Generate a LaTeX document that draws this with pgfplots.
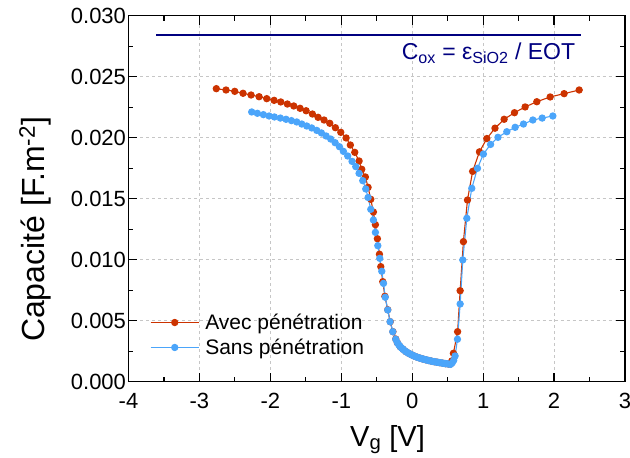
\documentclass[border=0pt]{standalone}
\usepackage{pgfplots}
\pgfplotsset{compat=1.18}
\usepackage{fontspec}
\setmainfont{Liberation Sans}
\definecolor{cred}{RGB}{204,51,0}
\definecolor{cblue}{RGB}{75,165,250}
\definecolor{cnavy}{RGB}{0,0,128}
\newcommand\tickfont{\fontsize{22}{26}\selectfont}
\newcommand\labfont{\fontsize{29}{34}\selectfont}
\newcommand\ylabfont{\fontsize{32}{38}\selectfont}
\newcommand\legfont{\fontsize{21}{25}\selectfont}
\newcommand\coxfont{\fontsize{23}{27}\selectfont}

\pgfplotstableread{
x y
-2.762 0.02402
-2.625 0.02391
-2.502 0.02380
-2.385 0.02364
-2.272 0.02350
-2.159 0.02336
-2.051 0.02320
-1.947 0.02306
-1.853 0.02293
-1.760 0.02276
-1.670 0.02260
-1.581 0.02241
-1.496 0.02221
-1.407 0.02194
-1.327 0.02167
-1.243 0.02145
-1.162 0.02118
-1.083 0.02082
-1.007 0.02044
-0.932 0.01998
-0.872 0.01940
-0.810 0.01880
-0.749 0.01809
-0.711 0.01741
-0.660 0.01678
-0.622 0.01593
-0.584 0.01495
-0.547 0.01391
-0.519 0.01287
-0.491 0.01172
-0.462 0.01045
-0.443 0.00943
-0.415 0.00820
-0.385 0.00700
-0.345 0.00590
-0.310 0.00492
-0.272 0.00410
-0.232 0.00350
-0.21 0.00320
-0.17 0.00288
-0.13 0.00266
-0.09 0.00247
-0.05 0.00233
-0.01 0.00221
0.03 0.00210
0.07 0.00201
0.11 0.00193
0.15 0.00186
0.19 0.00180
0.23 0.00174
0.27 0.00169
0.31 0.00164
0.35 0.00160
0.39 0.00156
0.43 0.00152
0.47 0.00148
0.51 0.00145
0.540 0.00145
0.558 0.00170
0.581 0.00233
0.640 0.00410
0.676 0.00746
0.722 0.01148
0.779 0.01489
0.852 0.01724
0.948 0.01884
1.052 0.01993
1.167 0.02078
1.296 0.02151
1.442 0.02205
1.592 0.02252
1.757 0.02295
1.945 0.02334
2.142 0.02361
2.354 0.02391
}\reddata

\pgfplotstableread{
x y
-2.263 0.02211
-2.183 0.02200
-2.098 0.02189
-2.018 0.02178
-1.943 0.02170
-1.859 0.02161
-1.779 0.02151
-1.703 0.02140
-1.628 0.02129
-1.557 0.02112
-1.487 0.02096
-1.417 0.02080
-1.346 0.02060
-1.280 0.02039
-1.214 0.02014
-1.149 0.01989
-1.087 0.01959
-1.026 0.01926
-0.970 0.01888
-0.909 0.01850
-0.848 0.01806
-0.796 0.01763
-0.749 0.01708
-0.697 0.01648
-0.655 0.01580
-0.622 0.01510
-0.584 0.01413
-0.547 0.01325
-0.519 0.01224
-0.485 0.01115
-0.457 0.01011
-0.429 0.00905
-0.405 0.00806
-0.380 0.00692
-0.345 0.00588
-0.312 0.00492
-0.274 0.00410
-0.232 0.00348
-0.21 0.00320
-0.19 0.00302
-0.17 0.00288
-0.15 0.00276
-0.13 0.00266
-0.11 0.00256
-0.09 0.00247
-0.07 0.00240
-0.05 0.00233
-0.03 0.00227
-0.01 0.00221
0.01 0.00215
0.03 0.00210
0.05 0.00205
0.07 0.00201
0.09 0.00197
0.11 0.00193
0.13 0.00189
0.15 0.00186
0.17 0.00183
0.19 0.00180
0.21 0.00177
0.23 0.00174
0.25 0.00171
0.27 0.00169
0.29 0.00166
0.31 0.00164
0.33 0.00162
0.35 0.00160
0.37 0.00158
0.39 0.00156
0.41 0.00154
0.43 0.00152
0.45 0.00150
0.47 0.00148
0.49 0.00147
0.51 0.00145
0.540 0.00142
0.565 0.00155
0.585 0.00175
0.605 0.00211
0.638 0.00348
0.676 0.00637
0.713 0.00998
0.770 0.01339
0.840 0.01585
0.920 0.01749
1.004 0.01866
1.105 0.01945
1.209 0.02003
1.334 0.02049
1.451 0.02085
1.569 0.02112
1.701 0.02145
1.832 0.02161
1.983 0.02178
}\bluedata

\begin{document}
\begin{tikzpicture}
\path[use as bounding box] (-128.5pt,-76.3pt) rectangle (501.5pt,381.7pt);
\begin{axis}[
  at={(0pt,0pt)}, anchor=south west,
  width=496.5pt, height=366pt, scale only axis,
  xmin=-4, xmax=3, ymin=0, ymax=0.03,
  xtick={-4,-3,...,3},
  ytick={0,0.005,0.01,0.015,0.02,0.025,0.03},
  minor x tick num=1, minor y tick num=1,
  scaled y ticks=false,
  yticklabel style={/pgf/number format/fixed, /pgf/number format/fixed zerofill, /pgf/number format/precision=3, xshift=1pt},
  xticklabel style={yshift=-8pt},
  /pgf/number format/assume math mode=true,
  ticklabel style={font=\tickfont},
  axis line style={line width=1.5pt},
  every tick/.style={black, line width=1.2pt},
  major tick length=9pt, minor tick length=5pt,
  tick align=inside,
  grid=major,
  major grid style={gray!45, line width=0.7pt, dash pattern=on 3pt off 3pt},
  xlabel={V\textsubscript{g} [V]},
  ylabel={Capacité [F.m\textsuperscript{-2}]},
  xlabel style={font=\labfont, at={(axis description cs:0.5217,-0.1757)}, anchor=base},
  ylabel style={font=\ylabfont, at={(axis description cs:-0.1883,0.416)}, anchor=center},
  legend style={draw=none, fill=none, font=\legfont, at={(axis description cs:0.0433,0.1276)}, anchor=west, inner sep=0pt, row sep=4pt, /tikz/every odd column/.append style={column sep=4pt}},
  legend cell align=left,
  legend image code/.code={\draw[mark repeat=2,mark phase=2] plot coordinates {(0pt,0pt) (24pt,0pt) (48pt,0pt)};},
]
\addplot[cnavy, line width=1.6pt, forget plot] coordinates {(-3.61,0.0284) (2.38,0.0284)};
\addplot[cred, line width=1.1pt, mark=*, mark size=3.1pt] table {\reddata};
\addlegendentry{Avec pénétration}
\addplot[cblue, line width=1.1pt, mark=*, mark size=3.1pt] table {\bluedata};
\addlegendentry{Sans pénétration}
\node[anchor=base east, text=cnavy, font=\coxfont, inner sep=0pt] at (axis cs:2.30,0.0264) {C\textsubscript{ox} = ε\textsubscript{SiO2} / EOT};
\end{axis}
\end{tikzpicture}
\end{document}
